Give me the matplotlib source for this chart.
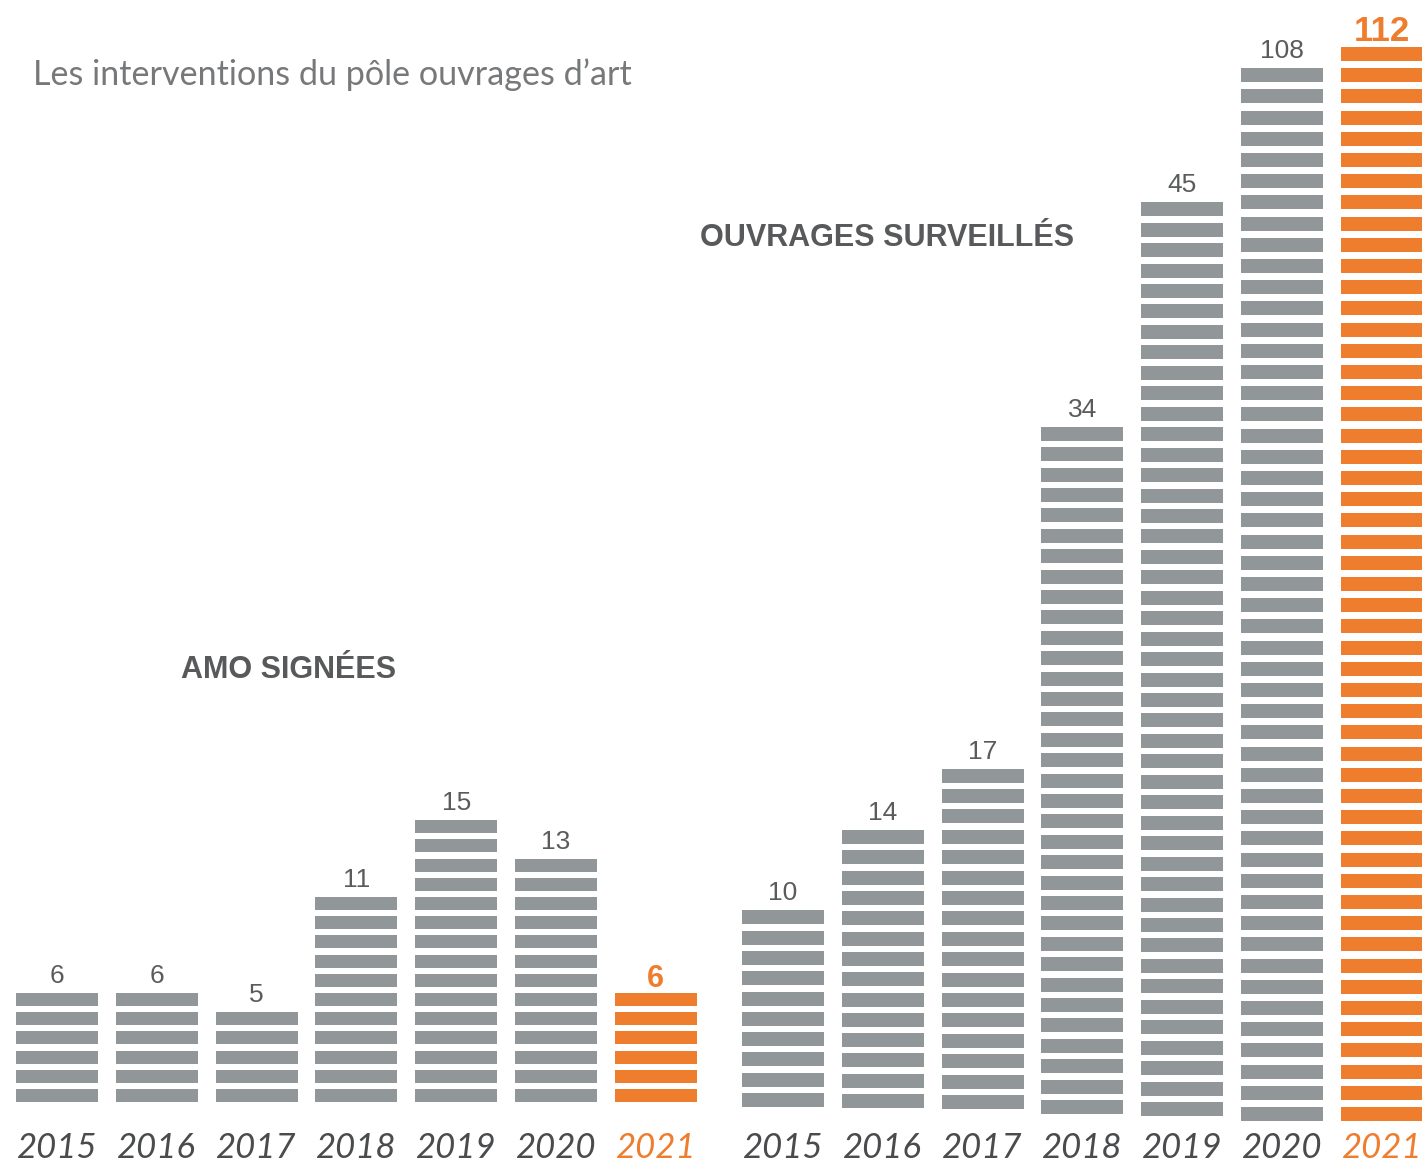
import matplotlib.pyplot as plt

# values read from the infographic
years = ["2015", "2016", "2017", "2018", "2019", "2020", "2021"]
amo_values = [6, 6, 5, 11, 15, 13, 6]
amo_stripes = [6, 6, 5, 11, 15, 13, 6]
ouv_values = [10, 14, 17, 34, 45, 108, 112]
ouv_stripes = [10, 14, 17, 34, 45, 50, 51]  # 2020/2021 are not to scale

title = "Les interventions du pôle ouvrages d\u2019art"
amo_label = "AMO SIGNÉES"
ouv_label = "OUVRAGES SURVEILLÉS"

GREY = "#919698"
ORANGE = "#ef7d2e"
TEXT = "#58595b"

W, H = 1422, 1166
fig = plt.figure(figsize=(W / 100, H / 100), dpi=100)
ax = fig.add_axes([0, 0, 1, 1])
ax.set_xlim(0, W)
ax.set_ylim(H, 0)
ax.axis("off")

num_font = dict(family="Liberation Sans", fontweight="normal")
year_font = dict(family="Lato", style="italic", fontweight="normal")


def draw_group(x0, stripes, values, baselines, pitches, stripe_h):
    for i, (n, v) in enumerate(zip(stripes, values)):
        last = i == len(stripes) - 1
        color = ORANGE if last else GREY
        xc = x0 + i * 99.8
        base = baselines[i]
        p = pitches[i]
        bottoms = [base - k * p for k in range(n)]
        ax.bar([xc] * n, [-stripe_h] * n, bottom=bottoms, width=82,
               color=color, linewidth=0)
        top = base - (n - 1) * p - stripe_h
        if last:
            ax.text(xc, top - 6, str(v), ha="center", va="baseline",
                    fontsize=25 if v > 99 else 22, fontweight="bold",
                    family="Liberation Sans", color=ORANGE)
        else:
            ax.text(xc, top - 10, str(v), ha="center", va="baseline",
                    fontsize=19, color="#5a5b5d", **num_font)
        ax.text(xc, 1148, years[i], ha="center", va="center", fontsize=25,
                color=ORANGE if last else "#4a4b4d", **year_font)


draw_group(57, amo_stripes, amo_values, [1102] * 7, [19.2] * 7, 13)
draw_group(783, ouv_stripes, ouv_values,
           [1107, 1108, 1109, 1114, 1116, 1121, 1121],
           [20.3, 20.3, 20.4, 20.4, 20.45, 21.2, 21.2], 14)

ax.text(33, 75, title, ha="left", va="center", fontsize=24.6,
        color="#77787a", family="Lato", fontweight="normal")
ax.text(181, 670, amo_label, ha="left", va="center", fontsize=22,
        fontweight="bold", family="Liberation Sans", color=TEXT)
ax.text(700, 238, ouv_label, ha="left", va="center", fontsize=22,
        fontweight="bold", family="Liberation Sans", color=TEXT)

fig.savefig("out.png", dpi=100)
